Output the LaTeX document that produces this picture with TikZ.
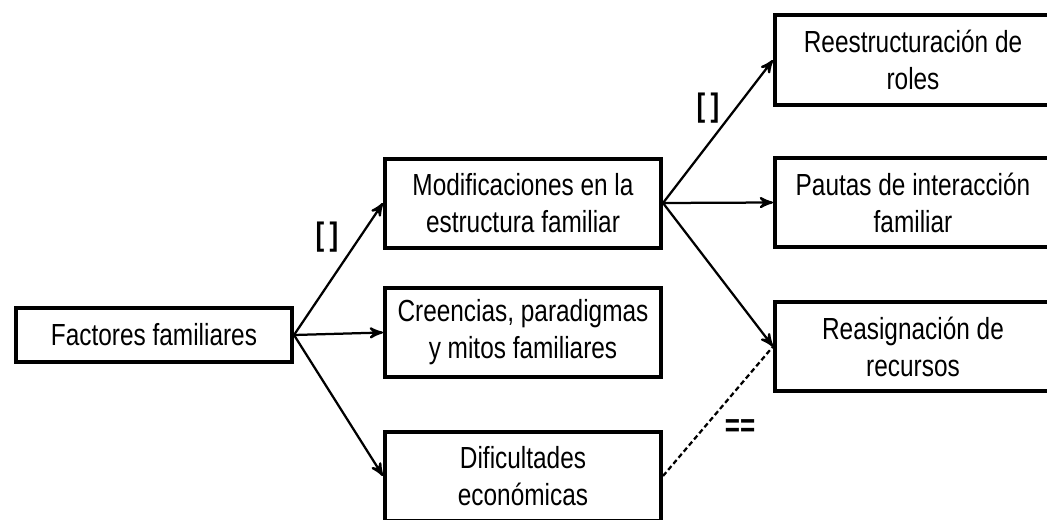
\documentclass[tikz,border=0pt]{standalone}
\usepackage{fontspec}
\setmainfont[FakeStretch=0.8]{Liberation Sans}
\usepackage{tikz}
\usetikzlibrary{shapes}
\usetikzlibrary{arrows}
\tikzset{
  box node/.style={rectangle,draw,line width=1.6pt,align=center,inner sep=2pt,
    minimum width=110.4pt,minimum height=35.6pt,font=\fontsize{12.2}{14.8}\selectfont},
  small box/.style={box node,minimum height=21.6pt},
  mark label/.style={font=\fontsize{13}{14}\selectfont\bfseries}
}
\begin{document}
\begin{tikzpicture}[x=0.4pt,y=-0.4pt,->,>=stealth',line width=0.9pt]
        \useasboundingbox (0,0) rectangle (1047,520);

        \node[small box] (1) at (154,335) {Factores familiares};

        \node[box node] (2) at (523,203) {Modificaciones en la\\estructura familiar};
        \node[box node] (3) at (523,332.5) {Creencias, paradigmas\\y mitos familiares};
        \node[box node] (4) at (523,476) {Dificultades\\económicas};

        \node[box node] (5) at (913,60) {Reestructuración de\\roles};
        \node[box node] (6) at (913,202.5) {Pautas de interacción\\familiar};
        \node[box node] (7) at (913,346.5) {Reasignación de\\recursos};

        \node[mark label] (m1) at (327,237) {[\,]};
        \node[mark label] (m2) at (708,108) {[\,]};
        \node[mark label] (m3) at (740,428) {==};

        \path
          (1.east) edge (2.west)
          (1.east) edge (3.west)
          (1.east) edge (4.west)
          (2.east) edge (5.west)
          (2.east) edge (6.west)
          (2.east) edge (7.west);
        \path[-,dash pattern=on 2pt off 1.2pt]
          (4.east) edge (7.west);
      \end{tikzpicture}
\end{document}
